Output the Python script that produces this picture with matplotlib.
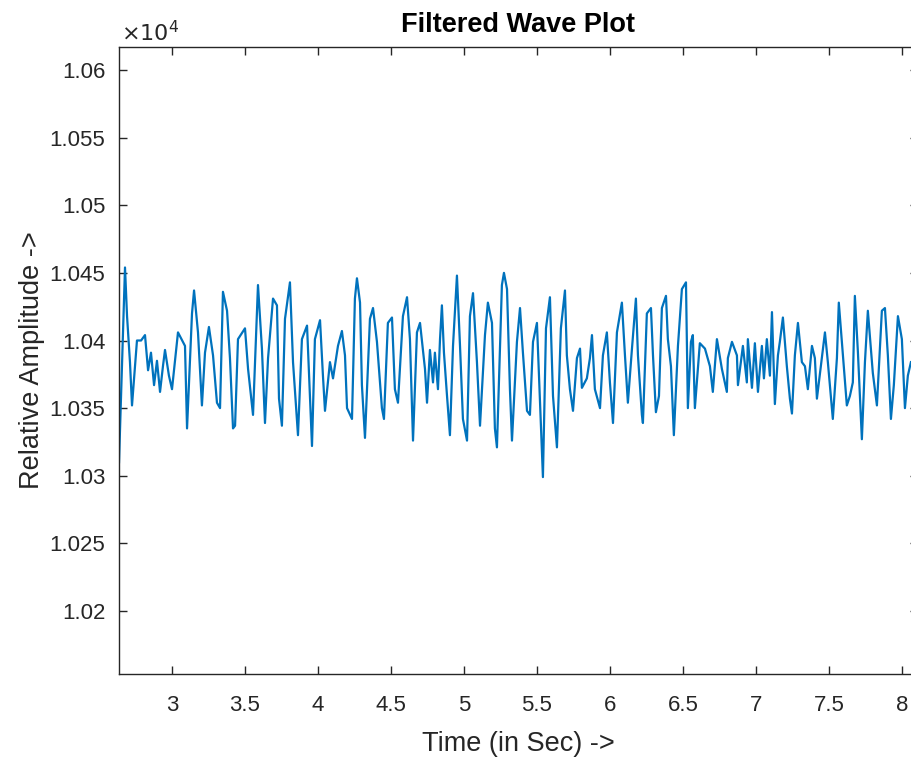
import numpy as np
import matplotlib
matplotlib.use("Agg")
import matplotlib.pyplot as plt
from matplotlib.ticker import FuncFormatter

# samples (time in sec, amplitude)
time_sec = [
    2.637, 2.678, 2.692, 2.712, 2.726, 2.760, 2.788, 2.815, 2.836, 2.856,
    2.877, 2.897, 2.918, 2.938, 2.952, 2.979, 3.000, 3.041, 3.089, 3.103,
    3.137, 3.151, 3.178, 3.205, 3.226, 3.253, 3.281, 3.308, 3.329,
    3.349, 3.377, 3.397, 3.418, 3.432, 3.452, 3.500, 3.521, 3.555, 3.589,
    3.616, 3.637, 3.658, 3.692, 3.719, 3.733, 3.753, 3.774, 3.808, 3.829,
    3.863, 3.890, 3.925, 3.959, 3.979, 4.014, 4.034,
    4.048, 4.082, 4.103, 4.137, 4.164, 4.185, 4.199, 4.233, 4.253, 4.267,
    4.288, 4.301, 4.322, 4.356, 4.377, 4.404, 4.438, 4.452, 4.479, 4.507,
    4.527, 4.548, 4.582, 4.610, 4.630, 4.651, 4.678, 4.699, 4.733, 4.747,
    4.767, 4.788, 4.801, 4.822, 4.836, 4.849, 4.863, 4.884, 4.904, 4.925,
    4.952, 4.973, 4.993, 5.021, 5.041, 5.062, 5.089, 5.110, 5.144, 5.164,
    5.192, 5.212, 5.226, 5.260, 5.274, 5.295, 5.315, 5.329, 5.363, 5.384,
    5.404, 5.432, 5.452,
    5.473, 5.500, 5.521, 5.541, 5.562, 5.589, 5.610, 5.637, 5.664, 5.692,
    5.705, 5.726, 5.747, 5.774, 5.795, 5.808, 5.842, 5.863, 5.877, 5.897,
    5.932, 5.952, 5.979, 6.000, 6.021, 6.048, 6.082, 6.103, 6.123, 6.151,
    6.178,
    6.192, 6.219, 6.226, 6.253, 6.281, 6.295, 6.315, 6.336, 6.356, 6.384,
    6.397, 6.418, 6.438, 6.466, 6.493, 6.521, 6.534, 6.555, 6.568, 6.582,
    6.616, 6.651, 6.685, 6.705, 6.733, 6.767, 6.801, 6.808, 6.836, 6.870,
    6.877, 6.911,
    6.938, 6.945, 6.973, 6.993, 7.014, 7.041, 7.055, 7.075, 7.096, 7.110,
    7.130, 7.151, 7.164, 7.185, 7.212, 7.233, 7.247, 7.267, 7.288, 7.315,
    7.336, 7.356, 7.384, 7.404, 7.418, 7.452, 7.473, 7.493, 7.527, 7.555,
    7.568, 7.596, 7.623, 7.644,
    7.664, 7.678, 7.699, 7.726, 7.747, 7.767, 7.801, 7.829, 7.863, 7.884,
    7.904, 7.925, 7.945, 7.973, 8.000, 8.021, 8.041, 8.062,
]
amplitude = [
    10310, 10454, 10418, 10384, 10352, 10400, 10400, 10404, 10378, 10391,
    10367, 10385, 10362, 10381, 10393, 10374, 10364, 10406, 10396, 10335,
    10420, 10437, 10406, 10352, 10391, 10410, 10389, 10354, 10350,
    10436, 10422, 10387, 10335, 10337, 10401, 10409, 10379, 10345, 10441,
    10394, 10339, 10387, 10431, 10426, 10357, 10337, 10416, 10443, 10384,
    10330, 10401, 10411, 10322, 10401, 10415, 10374,
    10348, 10384, 10372, 10396, 10407, 10389, 10350, 10342, 10431, 10446,
    10428, 10367, 10328, 10416, 10424, 10399, 10350, 10342, 10413, 10417,
    10364, 10354, 10418, 10432, 10401, 10326, 10406, 10413, 10379, 10354,
    10393, 10369, 10391, 10364, 10401, 10426, 10391, 10359, 10330, 10396,
    10448, 10396, 10342, 10326, 10418, 10435, 10384, 10337, 10404, 10428,
    10413, 10335, 10321, 10441, 10450, 10438, 10364, 10326, 10399, 10424,
    10391, 10348, 10345,
    10399, 10413, 10354, 10299, 10409, 10432, 10359, 10321, 10409, 10437,
    10389, 10364, 10348, 10387, 10394, 10365, 10372, 10387, 10404, 10364,
    10350, 10389, 10406, 10369, 10339, 10406, 10428, 10389, 10354, 10394,
    10431,
    10389, 10345, 10339, 10420, 10424, 10389, 10347, 10359, 10424, 10433,
    10401, 10381, 10330, 10396, 10438, 10443, 10350, 10399, 10404, 10350,
    10398, 10394, 10381, 10362, 10401, 10379, 10362, 10387, 10399, 10389,
    10367, 10396,
    10369, 10401, 10365, 10398, 10362, 10396, 10372, 10401, 10374, 10421,
    10353, 10389, 10399, 10417, 10381, 10357, 10346, 10389, 10413, 10384,
    10381, 10364, 10396, 10387, 10357, 10387, 10406, 10384, 10342, 10387,
    10428, 10389, 10352, 10359,
    10369, 10433, 10391, 10327, 10384, 10422, 10376, 10352, 10422, 10424,
    10389, 10342, 10367, 10418, 10401, 10350, 10374, 10384,
]

x_ticks = [3, 3.5, 4, 4.5, 5, 5.5, 6, 6.5, 7, 7.5, 8]
y_ticks = [10200, 10250, 10300, 10350, 10400, 10450, 10500, 10550, 10600]

plt.rcParams['font.family'] = ['Liberation Sans', 'DejaVu Sans']
axis_color = '#262626'

fig = plt.figure(figsize=(9.12, 7.57), dpi=100)
ax = fig.add_axes([0.1305, 0.1096, 0.876, 0.8283])

ax.plot(time_sec, amplitude, color='#0072BD', linewidth=1.6)

ax.set_xlim(2.637, 8.11)
ax.set_ylim(10153.4, 10617)
ax.set_xticks(x_ticks)
ax.set_yticks(y_ticks)
ax.xaxis.set_major_formatter(FuncFormatter(lambda v, p: '%g' % v))
ax.yaxis.set_major_formatter(FuncFormatter(lambda v, p: '%g' % (v / 1e4)))

ax.tick_params(direction='in', length=6, width=1, colors=axis_color,
               labelsize=16, top=True, right=True)
ax.tick_params(axis='x', pad=15)
ax.tick_params(axis='y', pad=10)
for s in ax.spines.values():
    s.set_color(axis_color)
    s.set_linewidth(1)

ax.text(0.003, 1.001, r'$\times10^4$', transform=ax.transAxes, fontsize=16,
        color=axis_color, ha='left', va='bottom')
ax.set_title('Filtered Wave Plot', fontsize=19.5, fontweight='bold', color='black', pad=11)
ax.set_xlabel('Time (in Sec) ->', fontsize=19.5, color=axis_color, labelpad=11)
ax.set_ylabel('Relative Amplitude ->', fontsize=19.5, color=axis_color, labelpad=3)

fig.savefig('out.png', dpi=100)
